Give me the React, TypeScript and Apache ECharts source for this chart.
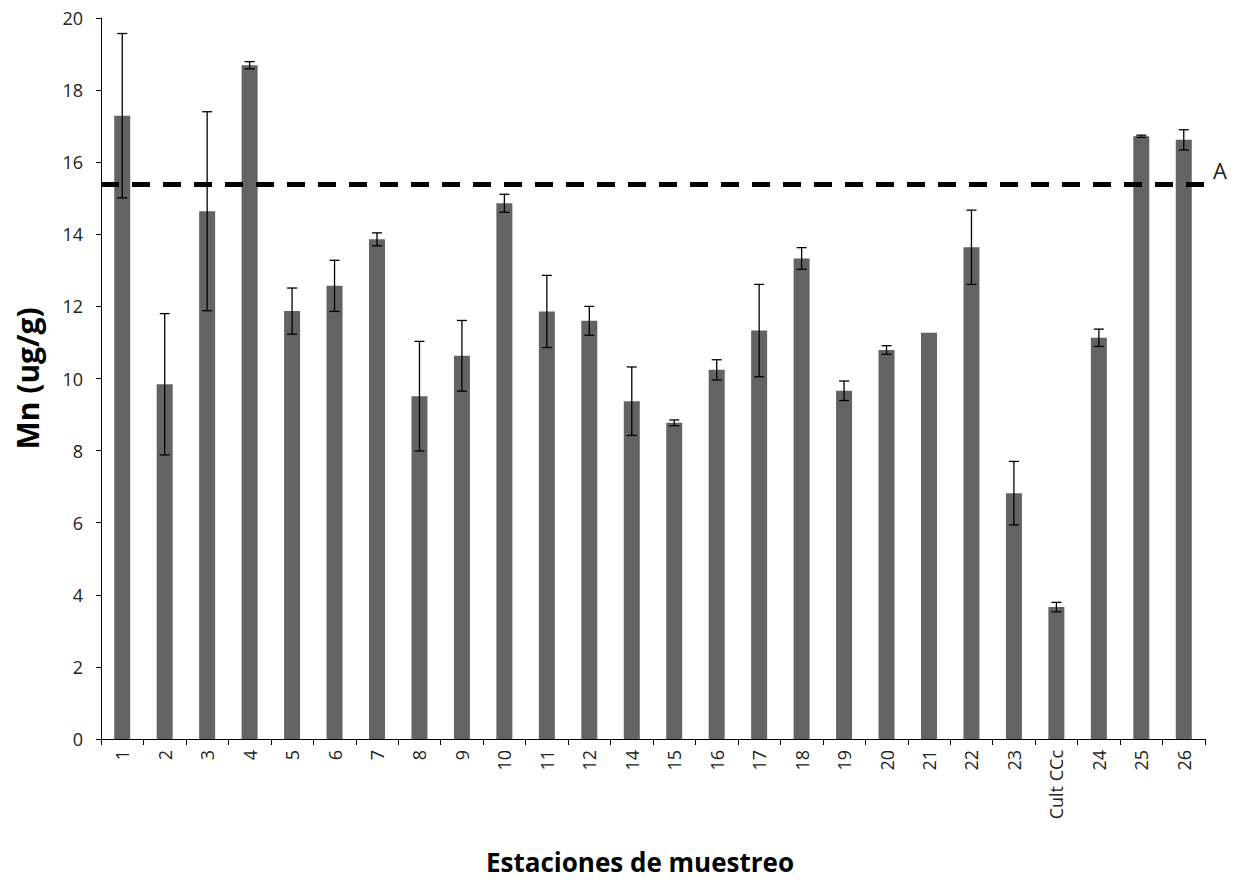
import React, { useEffect, useRef } from "react";
import * as echarts from "echarts";

const categories = ["1","2","3","4","5","6","7","8","9","10","11","12","14","15","16","17","18","19","20","21","22","23","Cult CCc","24","25","26"];
const means = [17.29,9.84,14.64,18.69,11.87,12.57,13.86,9.51,10.63,14.86,11.86,11.6,9.37,8.77,10.24,11.33,13.33,9.66,10.79,11.27,13.64,6.82,3.66,11.13,16.72,16.62];
const errors = [2.28,1.96,2.76,0.1,0.64,0.71,0.18,1.52,0.98,0.25,1.0,0.4,0.95,0.08,0.28,1.28,0.3,0.27,0.12,0,1.03,0.88,0.13,0.24,0.03,0.28];
const thresholdValue = 15.4;
const thresholdLabel = "A";
const yTicks = { min: 0, max: 20, interval: 2 };

export default function App() {
  const ref = useRef<HTMLDivElement>(null);
  useEffect(() => {
    if (!ref.current) return;
    const chart = echarts.init(ref.current, null, { renderer: "svg" });
    const errData = categories.map((c, i) => [i, means[i] - errors[i], means[i] + errors[i]]);
    chart.setOption({
      animation: false,
      backgroundColor: "#ffffff",
      grid: { left: 101, right: 34, top: 18, bottom: 145 },
      xAxis: {
        type: "category",
        data: categories,
        name: "Estaciones de muestreo",
        nameLocation: "middle",
        nameGap: 110,
        nameTextStyle: { fontFamily: "Open Sans", fontWeight: "bold", fontSize: 26, color: "#000", padding: [0, 26, 0, 0] },
        axisLine: { lineStyle: { color: "#000", width: 1 } },
        axisTick: { show: true, alignWithLabel: false, length: 6, lineStyle: { color: "#000" } },
        axisLabel: { rotate: 90, fontFamily: "Open Sans", fontSize: 18, color: "#222", margin: 11, interval: 0 },
      },
      yAxis: {
        type: "value",
        min: yTicks.min,
        max: yTicks.max,
        interval: yTicks.interval,
        name: "Mn (ug/g)",
        nameLocation: "middle",
        nameRotate: 90,
        nameGap: 59,
        nameTextStyle: { fontFamily: "Open Sans", fontWeight: "bold", fontSize: 30, color: "#000" },
        axisLine: { show: true, lineStyle: { color: "#000", width: 1 } },
        axisTick: { show: true, length: 5, lineStyle: { color: "#000" } },
        axisLabel: { fontFamily: "Open Sans", fontSize: 18, color: "#222", margin: 18 },
        splitLine: { show: false },
      },
      series: [
        {
          type: "bar",
          data: means,
          barWidth: 16,
          itemStyle: { color: "#636363" },
          markLine: {
            silent: true,
            symbol: "none",
            data: [{ yAxis: thresholdValue }],
            lineStyle: { color: "#000", width: 5, type: [18, 13] },
            label: {
              show: true,
              position: "end",
              formatter: thresholdLabel,
              fontFamily: "Open Sans",
              fontSize: 22,
              color: "#222",
              distance: 8,
              offset: [0, -14],
            },
          },
        },
        {
          type: "custom",
          data: errData,
          z: 5,
          renderItem: (params: any, api: any) => {
            const x = api.value(0);
            const lo = api.coord([x, api.value(1)]);
            const hi = api.coord([x, api.value(2)]);
            if (Math.abs(hi[1] - lo[1]) < 0.5) return { type: "group", children: [] };
            const cx = lo[0];
            const hw = 5;
            const style = { stroke: "#000", lineWidth: 1.3 };
            return {
              type: "group",
              children: [
                { type: "line", shape: { x1: cx, y1: lo[1], x2: cx, y2: hi[1] }, style },
                { type: "line", shape: { x1: cx - hw, y1: lo[1], x2: cx + hw, y2: lo[1] }, style },
                { type: "line", shape: { x1: cx - hw, y1: hi[1], x2: cx + hw, y2: hi[1] }, style },
              ],
            };
          },
        },
      ],
    });
    return () => chart.dispose();
  }, []);
  return <div ref={ref} style={{ position: "fixed", left: 0, top: 0, width: 1239, height: 884 }} />;
}
